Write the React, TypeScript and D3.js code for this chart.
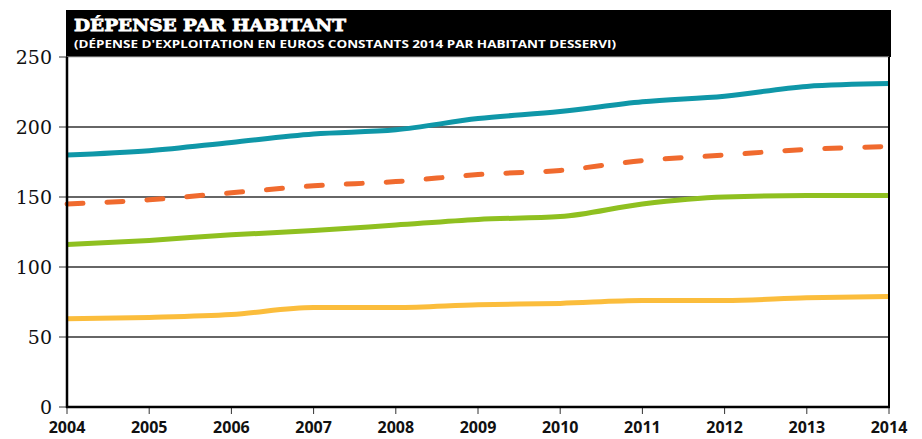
import React from "react";
import * as d3 from "d3";

const years = [2004, 2005, 2006, 2007, 2008, 2009, 2010, 2011, 2012, 2013, 2014];
const teal = [180, 183, 189, 195, 198, 206, 211, 218, 222, 229, 231];
const orange = [145, 148, 153, 158, 161, 166, 169, 176, 180, 184, 186];
const green = [116, 119, 123, 126, 130, 134, 136, 145, 150, 151, 151];
const yellow = [63, 64, 66, 71, 71, 73, 74, 76, 76, 78, 79];
const yTicks = [0, 50, 100, 150, 200, 250];
const title = "DÉPENSE PAR HABITANT";
const subtitle = "(DÉPENSE D'EXPLOITATION EN EUROS CONSTANTS 2014 PAR HABITANT DESSERVI)";

const W = 922, H = 439;
const left = 67, right = 889, top = 57, bottom = 407;

export default function App() {
  const x = d3.scaleLinear().domain([2004, 2014]).range([left, right]);
  const y = d3.scaleLinear().domain([0, 250]).range([bottom, top]);
  const line = d3
    .line<number>()
    .x((_, i) => x(years[i]))
    .y((d) => y(d))
    .curve(d3.curveMonotoneX);

  const series = [
    { v: yellow, c: "#fbbd3c", dash: undefined },
    { v: green, c: "#8fc020", dash: undefined },
    { v: orange, c: "#f06a2e", dash: "16 24" },
    { v: teal, c: "#0f97a8", dash: undefined },
  ];

  return (
    <svg width={W} height={H} style={{ position: "absolute", left: 0, top: 0 }}>
      <rect x={0} y={0} width={W} height={H} fill="#fff" />
      {/* header */}
      <rect x={66} y={10} width={825} height={47} fill="#000" />
      <text
        x={74}
        y={31}
        fill="#fff"
        stroke="#fff"
        strokeWidth={0.8}
        fontFamily="'DejaVu Serif'"
        fontWeight="bold"
        fontSize={17}
        textLength={272}
        lengthAdjust="spacingAndGlyphs"
      >
        {title}
      </text>
      <text
        x={74}
        y={48}
        fill="#fff"
        fontFamily="'Open Sans'"
        fontWeight="bold"
        fontSize={11}
        textLength={542}
        lengthAdjust="spacingAndGlyphs"
      >
        {subtitle}
      </text>
      {/* gridlines */}
      {yTicks.filter((t) => t > 0).map((t) => (
        <line
          key={"g" + t}
          x1={left}
          x2={right}
          y1={y(t)}
          y2={y(t)}
          stroke={t === 250 ? "#bbb" : "#333"}
          strokeWidth={t === 250 ? 1 : 1.3}
        />
      ))}
      {/* y ticks */}
      {yTicks.map((t) => (
        <g key={"y" + t}>
          <line x1={59} x2={left} y1={y(t)} y2={y(t)} stroke="#333" strokeWidth={1} />
          <text
            x={52}
            y={y(t) + 7}
            textAnchor="end"
            fontFamily="'DejaVu Serif'"
            fontSize={19}
            fill="#111"
          >
            {t}
          </text>
        </g>
      ))}
      {/* x ticks */}
      {years.map((yr) => (
        <g key={"x" + yr}>
          <line x1={x(yr)} x2={x(yr)} y1={bottom} y2={bottom + 7} stroke="#333" strokeWidth={1} />
          <text
            x={x(yr)}
            y={433}
            textAnchor="middle"
            fontFamily="'Open Sans'"
            fontWeight="bold"
            fontSize={16}
            fill="#111"
          >
            {yr}
          </text>
        </g>
      ))}
      {/* series */}
      {series.map((s, i) => (
        <path
          key={i}
          d={line(s.v) || ""}
          fill="none"
          stroke={s.c}
          strokeWidth={5}
          strokeDasharray={s.dash}
          strokeLinecap={s.dash ? "round" : "butt"}
        />
      ))}
      {/* axes */}
      <line x1={left} x2={left} y1={top} y2={bottom + 1} stroke="#000" strokeWidth={2.5} />
      <line x1={right} x2={right} y1={top} y2={bottom + 1} stroke="#000" strokeWidth={2} />
      <line x1={left - 1} x2={right + 1} y1={bottom} y2={bottom} stroke="#000" strokeWidth={2.5} />
    </svg>
  );
}
